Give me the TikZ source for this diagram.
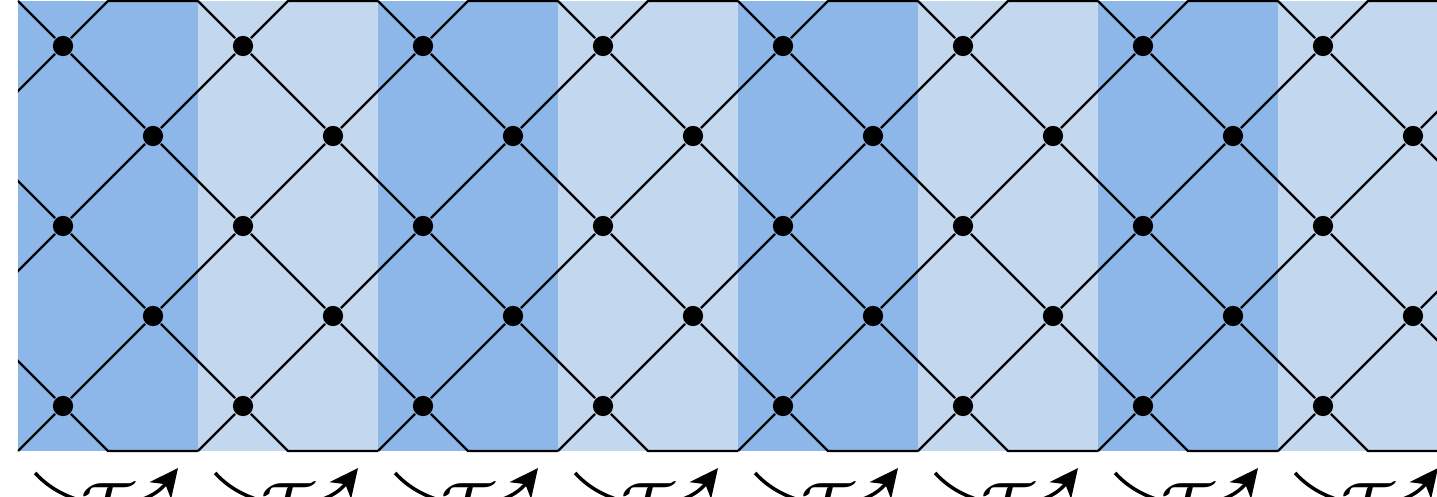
\documentclass[tikz,border=0pt]{standalone}
\usetikzlibrary{arrows.meta}
\definecolor{stripe-dark}{RGB}{141,183,233}
\definecolor{stripe-light}{RGB}{195,215,239}

\begin{document}
\begin{tikzpicture}[>={Stealth[length=9pt,width=8.5pt,inset=2.5pt]}, line width=0.7pt,
	   dt/.style={circle, fill=black, inner sep=0pt, minimum size=6.4pt},
	   lab/.style={fill=white, inner sep=2pt, yshift=-1.2pt, font=\fontsize{20}{24}\selectfont}]
	  \useasboundingbox (0,0.011) rectangle (15.967,-5.511);
	  \clip (0.2,0.1) rectangle (15.967,-5.6);
	  \foreach \x in {0.2,4.2,8.2,12.2} \fill[stripe-dark] (\x,0) rectangle ++(2,-5);
	  \foreach \x in {2.2,6.2,10.2,14.2} \fill[stripe-light] (\x,0) rectangle ++(2,-5);
	  \foreach \k in {-1,...,8} {
	    \node[dt] (v\k-1) at (2*\k+0.7,-0.5) {};
	    \node[dt] (v\k-3) at (2*\k+0.7,-2.5) {};
	    \node[dt] (v\k-5) at (2*\k+0.7,-4.5) {};
	    \node[dt] (v\k-2) at (2*\k+1.7,-1.5) {};
	    \node[dt] (v\k-4) at (2*\k+1.7,-3.5) {};
	    \coordinate (t\k-0) at (2*\k+0.2,0);
	    \coordinate (t\k-1) at (2*\k+1.2,0);
	    \coordinate (b\k-0) at (2*\k+0.2,-5);
	    \coordinate (b\k-1) at (2*\k+1.2,-5);
	  }
	  \foreach \k in {-1,...,7} {
	    \pgfmathtruncatemacro\nx{\k+1}
	    \draw (v\k-1) -- (v\k-2) -- (v\k-3) -- (v\k-4) -- (v\k-5);
	    \draw (v\k-2) -- (v\nx-1) (v\k-2) -- (v\nx-3) (v\k-4) -- (v\nx-3) (v\k-4) -- (v\nx-5);
	    \draw (t\k-0) -- (v\k-1) -- (t\k-1) -- (t\nx-0);
	    \draw (b\k-0) -- (v\k-5) -- (b\k-1) -- (b\nx-0);
	  }
	  % transfer arrows under the strips
	  \foreach \k in {0,...,7} {
	    \coordinate (s\k) at (2*\k+0.39,-5.244);
	    \coordinate (e\k) at (2*\k+1.978,-5.189);
	    \draw[->, line width=1.1pt] (s\k) to[bend right=50] node[lab] {$\mathcal{T}$} (e\k);
	  }
	\end{tikzpicture}
\end{document}
